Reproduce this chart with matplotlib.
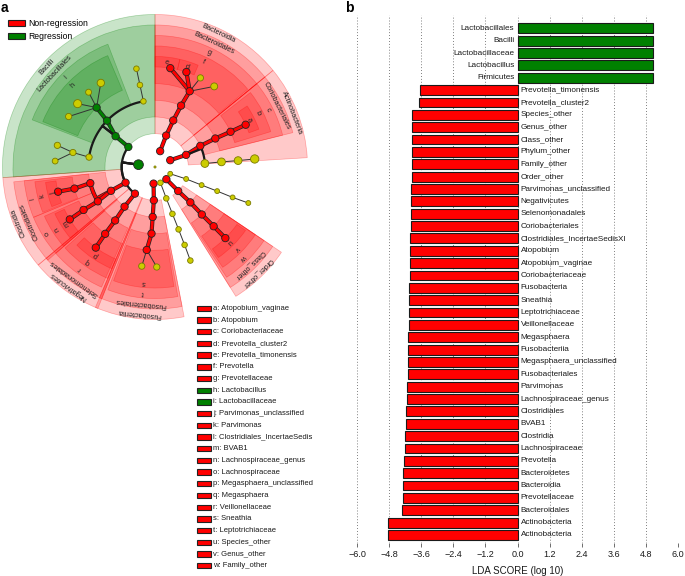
import numpy as np
import matplotlib
matplotlib.use("Agg")
import matplotlib.pyplot as plt
from matplotlib.patches import Wedge, Rectangle, Patch
import matplotlib.patheffects as pe

plt.rcParams['font.family'] = ['Liberation Sans', 'DejaVu Sans']

RED = '#FF0000'
GREEN = '#008000'
YELLOW = '#CCCC00'
GROUP_COLOR = {'N': RED, 'R': GREEN, '': YELLOW}

# ---------------- panel b : LDA scores ----------------
lda_names = ['Lactobacillales', 'Bacilli', 'Lactobacillaceae', 'Lactobacillus', 'Firmicutes',
             'Prevotella_timonensis', 'Prevotella_cluster2', 'Species_other', 'Genus_other',
             'Class_other', 'Phylum_other', 'Family_other', 'Order_other',
             'Parvimonas_unclassified', 'Negativicutes', 'Selenomonadales', 'Coriobacteriales',
             'Clostridiales_IncertaeSedisXI', 'Atopobium', 'Atopobium_vaginae', 'Coriobacteriaceae',
             'Fusobacteria', 'Sneathia', 'Leptotrichiaceae', 'Veillonellaceae', 'Megasphaera',
             'Fusobacteriia', 'Megasphaera_unclassified', 'Fusobacteriales', 'Parvimonas',
             'Lachnospiraceae_genus', 'Clostridiales', 'BVAB1', 'Clostridia', 'Lachnospiraceae',
             'Prevotella', 'Bacteroidetes', 'Bacteroidia', 'Prevotellaceae', 'Bacteroidales',
             'Actinobacteria', 'Actinobacteria']
lda_scores = [5.07, 5.07, 5.07, 5.07, 5.05,
              -3.65, -3.68, -3.95, -3.95, -3.95, -3.95, -3.95, -3.95,
              -3.97, -3.97, -3.97, -4.00, -4.02, -4.02, -4.03, -4.03,
              -4.05, -4.06, -4.07, -4.07, -4.10, -4.10, -4.10, -4.11, -4.12,
              -4.12, -4.15, -4.17, -4.20, -4.20, -4.25, -4.28, -4.28, -4.28, -4.31,
              -4.83, -4.84]
lda_group = ['R'] * 5 + ['N'] * 37
lda_ticks = [-6.0, -4.8, -3.6, -2.4, -1.2, 0.0, 1.2, 2.4, 3.6, 4.8, 6.0]

# ---------------- panel a : cladogram ----------------
# level 1 = phylum ... level 6 = species, angle in degrees
tax_names = ['root',
             'Firmicutes', 'Bacilli', 'Lactobacillales', 'Lactobacillaceae', 'Lactobacillus',
             'Lb_s1', 'Lb_s2', 'Lb_s3', 'Lb_s4',
             'Lo_f1', 'Lo_g1', 'Lo_s1', 'Lo_f2', 'Lo_g2', 'Lo_s2', 'Lo_s3',
             'Clostridia', 'Clostridiales', 'Clostridiales_IncertaeSedis', 'Parvimonas',
             'Parvimonas_unclassified', 'Lachnospiraceae', 'Lachnospiraceae_genus', 'BVAB1',
             'Negativicutes', 'Selenomonadales', 'Veillonellaceae', 'Megasphaera',
             'Megasphaera_unclassified',
             'Bacteroidetes', 'Bacteroidia', 'Bacteroidales', 'Prevotellaceae', 'Prevotella',
             'Prevotella_timonensis', 'Prevotella_cluster2', 'Pv_s1', 'Pv_s2',
             'Actinobacteria_p', 'Actinobacteria', 'Coriobacteriales', 'Coriobacteriaceae',
             'Atopobium', 'Atopobium_vaginae', 'Ac_o1', 'Ac_f1', 'Ac_g1', 'Ac_s1',
             'Fusobacteria', 'Fusobacteriia', 'Fusobacteriales', 'Leptotrichiaceae', 'Sneathia',
             'Sn_s1', 'Sn_s2',
             'Y1_p', 'Y1_c', 'Y1_o', 'Y1_f', 'Y1_g', 'Y1_s',
             'Phylum_other', 'Class_other', 'Order_other', 'Family_other', 'Genus_other',
             'Species_other',
             'Y2_p', 'Y2_c', 'Y2_o', 'Y2_f', 'Y2_g', 'Y2_s']
tax_parents = [None,
               'root', 'Firmicutes', 'Bacilli', 'Lactobacillales', 'Lactobacillaceae',
               'Lactobacillus', 'Lactobacillus', 'Lactobacillus', 'Lactobacillus',
               'Lactobacillales', 'Lo_f1', 'Lo_g1', 'Lactobacillales', 'Lo_f2', 'Lo_g2', 'Lo_g2',
               'Firmicutes', 'Clostridia', 'Clostridiales', 'Clostridiales_IncertaeSedis',
               'Parvimonas', 'Clostridiales', 'Lachnospiraceae', 'Lachnospiraceae_genus',
               'Firmicutes', 'Negativicutes', 'Selenomonadales', 'Veillonellaceae', 'Megasphaera',
               'root', 'Bacteroidetes', 'Bacteroidia', 'Bacteroidales', 'Prevotellaceae',
               'Prevotella', 'Prevotella', 'Prevotella', 'Prevotella',
               'root', 'Actinobacteria_p', 'Actinobacteria', 'Coriobacteriales',
               'Coriobacteriaceae', 'Atopobium', 'Actinobacteria', 'Ac_o1', 'Ac_f1', 'Ac_g1',
               'root', 'Fusobacteria', 'Fusobacteriia', 'Fusobacteriales', 'Leptotrichiaceae',
               'Sneathia', 'Sneathia',
               'root', 'Y1_p', 'Y1_c', 'Y1_o', 'Y1_f', 'Y1_g',
               'root', 'Phylum_other', 'Class_other', 'Order_other', 'Family_other', 'Genus_other',
               'root', 'Y2_p', 'Y2_c', 'Y2_o', 'Y2_f', 'Y2_g']
tax_levels = [0,
              1, 2, 3, 4, 5, 6, 6, 6, 6,
              4, 5, 6, 4, 5, 6, 6,
              2, 3, 4, 5, 6, 4, 5, 6,
              2, 3, 4, 5, 6,
              1, 2, 3, 4, 5, 6, 6, 6, 6,
              1, 2, 3, 4, 5, 6, 3, 4, 5, 6,
              1, 2, 3, 4, 5, 6, 6,
              1, 2, 3, 4, 5, 6,
              1, 2, 3, 4, 5, 6,
              1, 2, 3, 4, 5, 6]
tax_angles = [0,
              172, 143, 142, 136, 134.5, 122.8, 131.6, 140.7, 149.7,
              100, 100.4, 100.7, 171.5, 170, 167.5, 176.6,
              208, 208.4, 194, 195, 194.3, 211, 211, 211.6,
              233, 232.5, 233.3, 233.3, 233.7,
              72, 70.5, 68.6, 67, 65.4, 81.2, 71.7, 63, 53.7,
              24, 21.3, 25, 25.3, 25, 25, 4, 4.4, 4.4, 4.6,
              265, 268, 267.3, 267, 264.3, 262.4, 271,
              289, 289.8, 290.4, 290.7, 290.8, 290.7,
              313, 314, 315, 314.6, 314.7, 314.7,
              336, 339, 338.8, 338.8, 338.6, 338.9]
tax_groups = ['',
              'R', 'R', 'R', 'R', 'R', '', '', '', '',
              '', '', '', '', '', '', '',
              'N', 'N', 'N', 'N', 'N', 'N', 'N', 'N',
              'N', 'N', 'N', 'N', 'N',
              'N', 'N', 'N', 'N', 'N', 'N', 'N', '', '',
              'N', 'N', 'N', 'N', 'N', 'N', '', '', '', '',
              'N', 'N', 'N', 'N', 'N', '', '',
              '', '', '', '', '', '',
              'N', 'N', 'N', 'N', 'N', 'N',
              '', '', '', '', '', '']
tax_sizes = [1.5,
             7, 5.3, 5.3, 5.3, 5.3, 5.3, 4.3, 5.8, 4.5,
             4, 4, 4, 4.5, 4.5, 4.5, 4.2,
             5.3, 5.3, 5.3, 5.3, 5.3, 5.3, 5.3, 5.3,
             5.3, 5.3, 5.3, 5.3, 5.3,
             5.3, 5.3, 5.3, 5.3, 5.3, 5.3, 5.3, 4.5, 5,
             5.3, 5.3, 5.3, 5.3, 5.3, 5.3, 5.6, 5.6, 5.6, 6,
             5.3, 5.3, 5.3, 5.3, 5.3, 4.5, 4.5,
             4, 4, 4, 4, 4, 4,
             5.3, 5.3, 5.3, 5.3, 5.3, 5.3,
             3.5, 3.5, 3.5, 3.5, 3.5, 3.5]

# shaded clades: clade, angular span, text written in its band
shade_clades = ['Bacilli', 'Lactobacillales', 'Lactobacillaceae', 'Lactobacillus',
                'Bacteroidia', 'Bacteroidales', 'Prevotellaceae', 'Prevotella',
                'Prevotella_timonensis', 'Prevotella_cluster2',
                'Actinobacteria', 'Coriobacteriales', 'Coriobacteriaceae', 'Atopobium',
                'Atopobium_vaginae',
                'Clostridia', 'Clostridiales', 'Clostridiales_IncertaeSedis', 'Parvimonas',
                'Parvimonas_unclassified', 'Lachnospiraceae', 'Lachnospiraceae_genus', 'BVAB1',
                'Negativicutes', 'Selenomonadales', 'Veillonellaceae', 'Megasphaera',
                'Megasphaera_unclassified',
                'Fusobacteriia', 'Fusobacteriales', 'Leptotrichiaceae', 'Sneathia',
                'Class_other', 'Order_other', 'Family_other', 'Genus_other', 'Species_other']
shade_from = [90, 90, 111, 113,
              39.3, 39.3, 39.3, 40, 77, 67,
              3.5, 14, 14, 17, 20,
              184, 186, 186, 187, 188, 202.5, 204, 205,
              220, 220, 221, 222, 225,
              247, 247, 249, 250,
              302, 302, 303, 304, 305]
shade_to = [184, 184, 159, 158,
            90, 90, 90, 90, 90, 77,
            39.3, 39.3, 39.3, 38, 33.5,
            220, 221, 202.5, 202, 201, 221, 221, 220,
            248, 248, 246, 247, 247,
            281, 281, 280, 279,
            326, 326, 326, 326, 325]
shade_text = ['Bacilli', 'Lactobacillales', 'i', 'h',
              'Bacteroidia', 'Bacteroidales', 'g', 'f', 'e', 'd',
              'Actinobacteria', 'Coriobacteriales', 'c', 'b', 'a',
              'Clostridia', 'Clostridiales', 'l', 'k', 'j', 'o', 'n', 'm',
              'Negativicutes', 'Selenomonadales', 'r', 'q', 'p',
              'Fusobacteriia', 'Fusobacteriales', 't', 's',
              'Order_other', 'Class_other', 'w', 'v', 'u']

legend_classes = ['Non-regression', 'Regression']

# ---------------- figure ----------------
W, H = 685, 576
fig = plt.figure(figsize=(W / 100, H / 100), dpi=100)


def fig_box(x0, y0, x1, y1):
    return [x0 / W, 1 - y1 / H, (x1 - x0) / W, (y1 - y0) / H]


# ----- cladogram -----
PX = 16.67          # pixels per taxonomic level
CX, CY = 155, 167   # centre of the circle in pixels
ax_a = fig.add_axes(fig_box(0, 0, 345, 330))
ax_a.set_xlim(-CX / PX, (345 - CX) / PX)
ax_a.set_ylim((CY - 330) / PX, CY / PX)
ax_a.axis('off')

node = {n: i for i, n in enumerate(tax_names)}
BAND = 0.63


def outer_r(level):
    return 6 + (7 - level) * BAND


def xy(r, ang):
    t = np.deg2rad(ang)
    return r * np.cos(t), r * np.sin(t)


# shaded wedges
for clade, a0, a1, txt in zip(shade_clades, shade_from, shade_to, shade_text):
    i = node[clade]
    lev = tax_levels[i]
    col = GROUP_COLOR[tax_groups[i]]
    ro = outer_r(lev)
    ax_a.add_patch(Wedge((0, 0), ro, a0, a1, width=ro - lev, facecolor=col,
                         edgecolor='none', alpha=0.21, zorder=1))
    ax_a.add_patch(Wedge((0, 0), ro, a0, a1, width=ro - lev, facecolor='none',
                         edgecolor=col, alpha=0.3, lw=0.5, zorder=1))
    mid = (a0 + a1) / 2
    tx, ty = xy(ro - BAND / 2, mid)
    ax_a.text(tx, ty, txt, rotation=mid - 90, rotation_mode='anchor', ha='center',
              va='center', fontsize=5.3, color='#222222', zorder=5)

# branches
children = {}
for n, p in zip(tax_names, tax_parents):
    children.setdefault(p, []).append(n)

for i, n in enumerate(tax_names):
    p = tax_parents[i]
    if p is None or p == 'root':
        continue
    j = node[p]
    rp, ap, gp = tax_levels[j], tax_angles[j], tax_groups[j]
    rc, ac, gc = tax_levels[i], tax_angles[i], tax_groups[i]
    arc_style = abs(ac - ap) > 8 and rc <= 4
    if arc_style:
        angs = np.linspace(ap, ac, 40)
        xs = [xy(rp, ap)[0]] + [xy(rc, a)[0] for a in angs]
        ys = [xy(rp, ap)[1]] + [xy(rc, a)[1] for a in angs]
        same = all(tax_groups[node[c]] == gp for c in children[p])
        coloured = gp != '' and same
    else:
        xs = [xy(rp, ap)[0], xy(rc, ac)[0]]
        ys = [xy(rp, ap)[1], xy(rc, ac)[1]]
        coloured = gp != '' and gp == gc
    if coloured:
        ax_a.plot(xs, ys, color=GROUP_COLOR[gc], lw=2.0, solid_capstyle='round', zorder=2,
                  path_effects=[pe.Stroke(linewidth=3.0, foreground='#222222'), pe.Normal()])
    else:
        lw = 1.6 if (gp != '' and rc <= 4) else 0.7
        ax_a.plot(xs, ys, color='#1a1a1a' if lw > 1 else '#333333', lw=lw, zorder=2)

# nodes
nx = [xy(tax_levels[i], tax_angles[i])[0] for i in range(len(tax_names))]
ny = [xy(tax_levels[i], tax_angles[i])[1] for i in range(len(tax_names))]
ncol = [GROUP_COLOR[g] for g in tax_groups]
nedge = ['#222222' if g else '#7a7a00' for g in tax_groups]
ax_a.scatter(nx, ny, s=np.array(tax_sizes) ** 2, c=ncol, edgecolors=nedge,
             linewidths=0.6, zorder=3)

# class legend
fig.legend(handles=[Patch(facecolor=RED, edgecolor='#222222', lw=0.8),
                    Patch(facecolor=GREEN, edgecolor='#222222', lw=0.8)],
           labels=legend_classes, loc='upper left', bbox_to_anchor=(8 / W, 1 - 19 / H),
           frameon=False, fontsize=6.2, handlelength=2.0, handleheight=0.75,
           handletextpad=0.4, labelspacing=0.45, borderpad=0, borderaxespad=0)

# letter key
key_idx = sorted([k for k, t in enumerate(shade_text) if len(t) == 1],
                 key=lambda k: shade_text[k])
ax_k = fig.add_axes(fig_box(195, 302, 345, 572))
ax_k.set_xlim(195, 345)
ax_k.set_ylim(22.54, -0.54)
ax_k.axis('off')
for row, k in enumerate(key_idx):
    g = tax_groups[node[shade_clades[k]]]
    ax_k.add_patch(Rectangle((197, row - 0.23), 14, 0.46, facecolor=GROUP_COLOR[g],
                             edgecolor='#222222', lw=0.8))
    ax_k.text(213.5, row, f"{shade_text[k]}: {shade_clades[k]}", va='center', ha='left',
              fontsize=5.5, color='#1a1a1a')

# ----- LDA bars -----
ax_b = fig.add_axes(fig_box(357, 15, 678, 543))
ypos = np.arange(len(lda_names))
bar_cols = [GROUP_COLOR[g] for g in lda_group]
ax_b.barh(ypos, lda_scores, height=0.8, color=bar_cols, edgecolor='#1a1a1a',
          linewidth=0.8, zorder=2)
for y, name, v in zip(ypos, lda_names, lda_scores):
    if v > 0:
        ax_b.text(-0.12, y, name, ha='right', va='center', fontsize=5.9, color='#1a1a1a')
    else:
        ax_b.text(0.12, y, name, ha='left', va='center', fontsize=5.9, color='#1a1a1a')
ax_b.set_xlim(-6, 6)
ax_b.set_ylim(len(lda_names) - 1 + 0.65, -1.08)
ax_b.set_xticks(lda_ticks)
ax_b.set_yticks([])
ax_b.grid(axis='x', linestyle=(0, (1, 2.5)), color='#555555', lw=0.6, zorder=0)
for sp in ax_b.spines.values():
    sp.set_visible(False)
ax_b.tick_params(axis='x', length=3, width=0.6, color='#555555', labelsize=6.5, pad=2,
                 labelcolor='#1a1a1a')
ax_b.set_xlabel('LDA SCORE (log 10)', fontsize=7, labelpad=5, color='#1a1a1a')

fig.text(1 / W, 1 - 8 / H, 'a', fontsize=10, fontweight='bold', va='center')
fig.text(345 / W, 1 - 8 / H, 'b', fontsize=10, fontweight='bold', va='center')

fig.savefig('out.png', dpi=100)
